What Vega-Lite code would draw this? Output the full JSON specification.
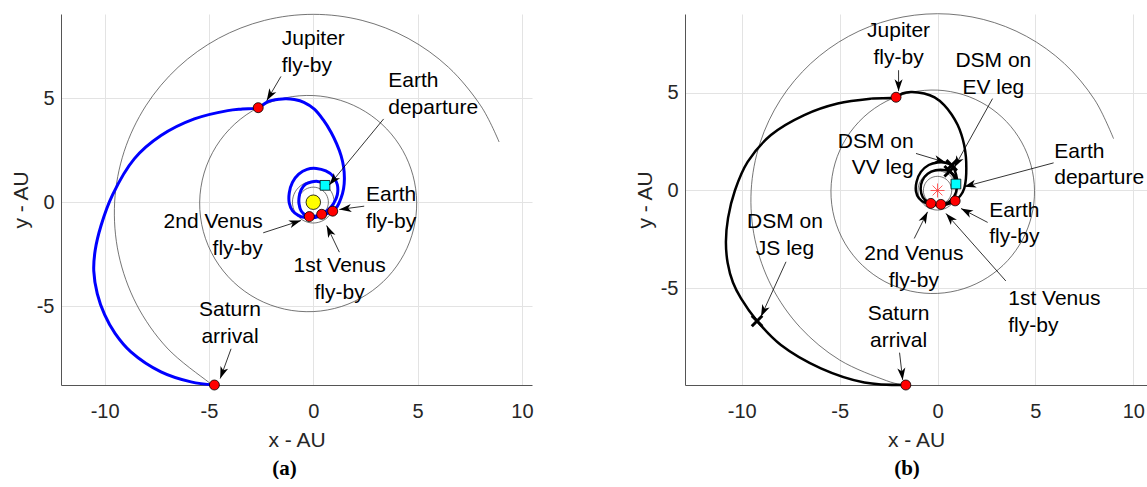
{
  "$schema": "https://vega.github.io/schema/vega-lite/v6.json",
  "background": "white",
  "padding": {"left": 10, "top": 12, "right": 0, "bottom": 0},
  "spacing": 153,
  "bounds": "flush",
  "config": {
    "view": {"stroke": null},
    "axis": {
      "grid": true, "gridColor": "#e3e3e3", "gridWidth": 1,
      "domainColor": "#555555", "domainWidth": 1,
      "ticks": false, "tickSize": 0,
      "labelFont": "Liberation Sans", "labelFontSize": 20, "labelColor": "#262626",
      "titleFont": "Liberation Sans", "titleFontSize": 21, "titleFontWeight": "normal", "titleColor": "#262626",
      "labelFlush": false, "labelOverlap": false,
      "labelExpr": "datum.value < 0 ? '-' + abs(datum.value) : '' + datum.value"
    },
    "axisX": {"labelPadding": 16, "titlePadding": 8},
    "axisY": {"labelPadding": 7, "titlePadding": 5},
    "text": {"font": "Liberation Sans", "fontSize": 21, "lineHeight": 26.7, "color": "black"}
  },
  "datasets": {
    "orbits": [
      {"body": "Venus", "i": 0, "x": 0.723, "y": 0},
      {"body": "Venus", "i": 1, "x": 0.626, "y": 0.362},
      {"body": "Venus", "i": 2, "x": 0.362, "y": 0.626},
      {"body": "Venus", "i": 3, "x": 0, "y": 0.723},
      {"body": "Venus", "i": 4, "x": -0.362, "y": 0.626},
      {"body": "Venus", "i": 5, "x": -0.626, "y": 0.362},
      {"body": "Venus", "i": 6, "x": -0.723, "y": 0},
      {"body": "Venus", "i": 7, "x": -0.626, "y": -0.362},
      {"body": "Venus", "i": 8, "x": -0.362, "y": -0.626},
      {"body": "Venus", "i": 9, "x": 0, "y": -0.723},
      {"body": "Venus", "i": 10, "x": 0.362, "y": -0.626},
      {"body": "Venus", "i": 11, "x": 0.626, "y": -0.362},
      {"body": "Earth", "i": 0, "x": 1, "y": 0},
      {"body": "Earth", "i": 1, "x": 0.866, "y": 0.5},
      {"body": "Earth", "i": 2, "x": 0.5, "y": 0.866},
      {"body": "Earth", "i": 3, "x": 0, "y": 1},
      {"body": "Earth", "i": 4, "x": -0.5, "y": 0.866},
      {"body": "Earth", "i": 5, "x": -0.866, "y": 0.5},
      {"body": "Earth", "i": 6, "x": -1, "y": 0},
      {"body": "Earth", "i": 7, "x": -0.866, "y": -0.5},
      {"body": "Earth", "i": 8, "x": -0.5, "y": -0.866},
      {"body": "Earth", "i": 9, "x": 0, "y": -1},
      {"body": "Earth", "i": 10, "x": 0.5, "y": -0.866},
      {"body": "Earth", "i": 11, "x": 0.866, "y": -0.5},
      {"body": "Jupiter", "i": 0, "x": 4.954, "y": 0},
      {"body": "Jupiter", "i": 1, "x": 4.777, "y": 1.28},
      {"body": "Jupiter", "i": 2, "x": 4.29, "y": 2.477},
      {"body": "Jupiter", "i": 3, "x": 3.519, "y": 3.519},
      {"body": "Jupiter", "i": 4, "x": 2.507, "y": 4.342},
      {"body": "Jupiter", "i": 5, "x": 1.31, "y": 4.891},
      {"body": "Jupiter", "i": 6, "x": 0, "y": 5.123},
      {"body": "Jupiter", "i": 7, "x": -1.343, "y": 5.011},
      {"body": "Jupiter", "i": 8, "x": -2.627, "y": 4.55},
      {"body": "Jupiter", "i": 9, "x": -3.76, "y": 3.76},
      {"body": "Jupiter", "i": 10, "x": -4.653, "y": 2.687},
      {"body": "Jupiter", "i": 11, "x": -5.232, "y": 1.402},
      {"body": "Jupiter", "i": 12, "x": -5.445, "y": 0},
      {"body": "Jupiter", "i": 13, "x": -5.268, "y": -1.412},
      {"body": "Jupiter", "i": 14, "x": -4.715, "y": -2.722},
      {"body": "Jupiter", "i": 15, "x": -3.83, "y": -3.83},
      {"body": "Jupiter", "i": 16, "x": -2.687, "y": -4.653},
      {"body": "Jupiter", "i": 17, "x": -1.376, "y": -5.136},
      {"body": "Jupiter", "i": 18, "x": 0, "y": -5.254},
      {"body": "Jupiter", "i": 19, "x": 1.343, "y": -5.011},
      {"body": "Jupiter", "i": 20, "x": 2.561, "y": -4.436},
      {"body": "Jupiter", "i": 21, "x": 3.581, "y": -3.581},
      {"body": "Jupiter", "i": 22, "x": 4.342, "y": -2.507},
      {"body": "Jupiter", "i": 23, "x": 4.807, "y": -1.288}
    ],
    "saturn": [
      {"panel": "a", "i": 0, "x": 8.903, "y": 2.893},
      {"panel": "a", "i": 1, "x": 8.024, "y": 4.633},
      {"panel": "a", "i": 2, "x": 6.48, "y": 6.48},
      {"panel": "a", "i": 3, "x": 4.544, "y": 7.87},
      {"panel": "a", "i": 4, "x": 2.34, "y": 8.732},
      {"panel": "a", "i": 5, "x": 0, "y": 9.024},
      {"panel": "a", "i": 6, "x": -2.34, "y": 8.732},
      {"panel": "a", "i": 7, "x": -4.544, "y": 7.87},
      {"panel": "a", "i": 8, "x": -6.48, "y": 6.48},
      {"panel": "a", "i": 9, "x": -8.024, "y": 4.633},
      {"panel": "a", "i": 10, "x": -9.066, "y": 2.429},
      {"panel": "a", "i": 11, "x": -9.52, "y": 0},
      {"panel": "a", "i": 12, "x": -9.328, "y": -2.499},
      {"panel": "a", "i": 13, "x": -8.477, "y": -4.895},
      {"panel": "a", "i": 14, "x": -7.004, "y": -7.004},
      {"panel": "a", "i": 15, "x": -4.998, "y": -8.657},
      {"panel": "a", "i": 16, "x": -4.74, "y": -8.78},
      {"panel": "b", "i": 0, "x": 8.992, "y": 2.646},
      {"panel": "b", "i": 1, "x": 8.024, "y": 4.633},
      {"panel": "b", "i": 2, "x": 6.48, "y": 6.48},
      {"panel": "b", "i": 3, "x": 4.544, "y": 7.87},
      {"panel": "b", "i": 4, "x": 2.34, "y": 8.732},
      {"panel": "b", "i": 5, "x": 0, "y": 9.024},
      {"panel": "b", "i": 6, "x": -2.34, "y": 8.732},
      {"panel": "b", "i": 7, "x": -4.544, "y": 7.87},
      {"panel": "b", "i": 8, "x": -6.48, "y": 6.48},
      {"panel": "b", "i": 9, "x": -8.024, "y": 4.633},
      {"panel": "b", "i": 10, "x": -9.066, "y": 2.429},
      {"panel": "b", "i": 11, "x": -9.52, "y": 0},
      {"panel": "b", "i": 12, "x": -9.328, "y": -2.499},
      {"panel": "b", "i": 13, "x": -8.477, "y": -4.895},
      {"panel": "b", "i": 14, "x": -7.004, "y": -7.004},
      {"panel": "b", "i": 15, "x": -4.998, "y": -8.657},
      {"panel": "b", "i": 16, "x": -2.602, "y": -9.711},
      {"panel": "b", "i": 17, "x": -1.62, "y": -9.93}
    ],
    "traj": [
      {"panel": "a", "i": 0, "x": 0.56, "y": 0.81},
      {"panel": "a", "i": 1, "x": 0.4, "y": 0.95},
      {"panel": "a", "i": 2, "x": 0.21, "y": 1.0},
      {"panel": "a", "i": 3, "x": -0.1, "y": 0.97},
      {"panel": "a", "i": 4, "x": -0.38, "y": 0.86},
      {"panel": "a", "i": 5, "x": -0.58, "y": 0.6},
      {"panel": "a", "i": 6, "x": -0.68, "y": 0.25},
      {"panel": "a", "i": 7, "x": -0.68, "y": -0.1},
      {"panel": "a", "i": 8, "x": -0.58, "y": -0.42},
      {"panel": "a", "i": 9, "x": -0.35, "y": -0.64},
      {"panel": "a", "i": 10, "x": -0.05, "y": -0.74},
      {"panel": "a", "i": 11, "x": 0.2, "y": -0.7},
      {"panel": "a", "i": 12, "x": 0.4, "y": -0.58},
      {"panel": "a", "i": 13, "x": 0.72, "y": -0.36},
      {"panel": "a", "i": 14, "x": 0.98, "y": -0.05},
      {"panel": "a", "i": 15, "x": 1.15, "y": 0.35},
      {"panel": "a", "i": 16, "x": 1.15, "y": 0.85},
      {"panel": "a", "i": 17, "x": 0.95, "y": 1.25},
      {"panel": "a", "i": 18, "x": 0.6, "y": 1.5},
      {"panel": "a", "i": 19, "x": 0.15, "y": 1.62},
      {"panel": "a", "i": 20, "x": -0.3, "y": 1.58},
      {"panel": "a", "i": 21, "x": -0.7, "y": 1.35},
      {"panel": "a", "i": 22, "x": -1.0, "y": 0.95},
      {"panel": "a", "i": 23, "x": -1.15, "y": 0.45},
      {"panel": "a", "i": 24, "x": -1.15, "y": -0.05},
      {"panel": "a", "i": 25, "x": -1.0, "y": -0.4},
      {"panel": "a", "i": 26, "x": -0.72, "y": -0.63},
      {"panel": "a", "i": 27, "x": -0.45, "y": -0.72},
      {"panel": "a", "i": 28, "x": -0.19, "y": -0.69},
      {"panel": "a", "i": 29, "x": 0.15, "y": -0.66},
      {"panel": "a", "i": 30, "x": 0.55, "y": -0.58},
      {"panel": "a", "i": 31, "x": 0.93, "y": -0.43},
      {"panel": "a", "i": 32, "x": 1.15, "y": -0.2},
      {"panel": "a", "i": 33, "x": 1.33, "y": 0.2},
      {"panel": "a", "i": 34, "x": 1.45, "y": 0.65},
      {"panel": "a", "i": 35, "x": 1.49, "y": 1.12},
      {"panel": "a", "i": 36, "x": 1.45, "y": 1.7},
      {"panel": "a", "i": 37, "x": 1.33, "y": 2.24},
      {"panel": "a", "i": 38, "x": 1.12, "y": 2.8},
      {"panel": "a", "i": 39, "x": 0.85, "y": 3.36},
      {"panel": "a", "i": 40, "x": 0.48, "y": 3.95},
      {"panel": "a", "i": 41, "x": 0.05, "y": 4.47},
      {"panel": "a", "i": 42, "x": -0.45, "y": 4.8},
      {"panel": "a", "i": 43, "x": -0.91, "y": 4.93},
      {"panel": "a", "i": 44, "x": -1.3, "y": 4.97},
      {"panel": "a", "i": 45, "x": -1.63, "y": 4.95},
      {"panel": "a", "i": 46, "x": -2.18, "y": 4.83},
      {"panel": "a", "i": 47, "x": -2.64, "y": 4.54},
      {"panel": "a", "i": 48, "x": -3.4, "y": 4.48},
      {"panel": "a", "i": 49, "x": -4.1, "y": 4.4},
      {"panel": "a", "i": 50, "x": -5.7, "y": 4.0},
      {"panel": "a", "i": 51, "x": -7.3, "y": 3.2},
      {"panel": "a", "i": 52, "x": -8.58, "y": 2.08},
      {"panel": "a", "i": 53, "x": -9.62, "y": 0.35},
      {"panel": "a", "i": 54, "x": -10.17, "y": -1.12},
      {"panel": "a", "i": 55, "x": -10.45, "y": -2.3},
      {"panel": "a", "i": 56, "x": -10.52, "y": -3.3},
      {"panel": "a", "i": 57, "x": -10.35, "y": -4.4},
      {"panel": "a", "i": 58, "x": -10.0, "y": -5.4},
      {"panel": "a", "i": 59, "x": -9.5, "y": -6.3},
      {"panel": "a", "i": 60, "x": -8.74, "y": -7.19},
      {"panel": "a", "i": 61, "x": -7.3, "y": -8.15},
      {"panel": "a", "i": 62, "x": -5.86, "y": -8.63},
      {"panel": "a", "i": 63, "x": -4.74, "y": -8.78},
      {"panel": "b", "i": 0, "x": 0.94, "y": 0.33},
      {"panel": "b", "i": 1, "x": 0.85, "y": 0.7},
      {"panel": "b", "i": 2, "x": 0.62, "y": 0.98},
      {"panel": "b", "i": 3, "x": 0.3, "y": 1.05},
      {"panel": "b", "i": 4, "x": -0.1, "y": 1.03},
      {"panel": "b", "i": 5, "x": -0.5, "y": 0.85},
      {"panel": "b", "i": 6, "x": -0.78, "y": 0.5},
      {"panel": "b", "i": 7, "x": -0.86, "y": 0.05},
      {"panel": "b", "i": 8, "x": -0.75, "y": -0.35},
      {"panel": "b", "i": 9, "x": -0.45, "y": -0.62},
      {"panel": "b", "i": 10, "x": -0.1, "y": -0.74},
      {"panel": "b", "i": 11, "x": 0.17, "y": -0.71},
      {"panel": "b", "i": 12, "x": 0.55, "y": -0.6},
      {"panel": "b", "i": 13, "x": 0.85, "y": -0.3},
      {"panel": "b", "i": 14, "x": 1.0, "y": 0.2},
      {"panel": "b", "i": 15, "x": 0.95, "y": 0.8},
      {"panel": "b", "i": 16, "x": 0.72, "y": 1.28},
      {"panel": "b", "i": 17, "x": 0.4, "y": 1.42},
      {"panel": "b", "i": 18, "x": 0.0, "y": 1.43},
      {"panel": "b", "i": 19, "x": -0.45, "y": 1.3},
      {"panel": "b", "i": 20, "x": -0.85, "y": 0.95},
      {"panel": "b", "i": 21, "x": -1.07, "y": 0.45},
      {"panel": "b", "i": 22, "x": -1.1, "y": -0.05},
      {"panel": "b", "i": 23, "x": -0.95, "y": -0.4},
      {"panel": "b", "i": 24, "x": -0.65, "y": -0.62},
      {"panel": "b", "i": 25, "x": -0.34, "y": -0.66},
      {"panel": "b", "i": 26, "x": 0.0, "y": -0.76},
      {"panel": "b", "i": 27, "x": 0.45, "y": -0.72},
      {"panel": "b", "i": 28, "x": 0.9, "y": -0.53},
      {"panel": "b", "i": 29, "x": 1.18, "y": -0.25},
      {"panel": "b", "i": 30, "x": 1.36, "y": 0.1},
      {"panel": "b", "i": 31, "x": 1.45, "y": 0.6},
      {"panel": "b", "i": 32, "x": 1.47, "y": 1.12},
      {"panel": "b", "i": 33, "x": 1.45, "y": 1.7},
      {"panel": "b", "i": 34, "x": 1.36, "y": 2.32},
      {"panel": "b", "i": 35, "x": 1.22, "y": 2.85},
      {"panel": "b", "i": 36, "x": 1.03, "y": 3.34},
      {"panel": "b", "i": 37, "x": 0.72, "y": 3.88},
      {"panel": "b", "i": 38, "x": 0.34, "y": 4.36},
      {"panel": "b", "i": 39, "x": -0.15, "y": 4.75},
      {"panel": "b", "i": 40, "x": -0.68, "y": 4.95},
      {"panel": "b", "i": 41, "x": -1.36, "y": 5.03},
      {"panel": "b", "i": 42, "x": -1.8, "y": 4.95},
      {"panel": "b", "i": 43, "x": -2.12, "y": 4.76},
      {"panel": "b", "i": 44, "x": -3.4, "y": 4.69},
      {"panel": "b", "i": 45, "x": -5.1, "y": 4.44},
      {"panel": "b", "i": 46, "x": -6.81, "y": 3.85},
      {"panel": "b", "i": 47, "x": -8.51, "y": 2.83},
      {"panel": "b", "i": 48, "x": -9.7, "y": 1.46},
      {"panel": "b", "i": 49, "x": -10.35, "y": 0.0},
      {"panel": "b", "i": 50, "x": -10.7, "y": -1.4},
      {"panel": "b", "i": 51, "x": -10.81, "y": -2.62},
      {"panel": "b", "i": 52, "x": -10.72, "y": -3.7},
      {"panel": "b", "i": 53, "x": -10.45, "y": -4.7},
      {"panel": "b", "i": 54, "x": -10.04, "y": -5.51},
      {"panel": "b", "i": 55, "x": -9.22, "y": -6.66},
      {"panel": "b", "i": 56, "x": -8.0, "y": -7.89},
      {"panel": "b", "i": 57, "x": -5.96, "y": -9.08},
      {"panel": "b", "i": 58, "x": -3.74, "y": -9.8},
      {"panel": "b", "i": 59, "x": -1.62, "y": -9.93}
    ],
    "markers": [
      {"panel": "a", "kind": "sun", "x": 0, "y": 0},
      {"panel": "a", "kind": "departure", "x": 0.56, "y": 0.81},
      {"panel": "a", "kind": "flyby", "x": -2.64, "y": 4.54},
      {"panel": "a", "kind": "flyby", "x": -4.74, "y": -8.78},
      {"panel": "a", "kind": "flyby", "x": 0.93, "y": -0.43},
      {"panel": "a", "kind": "flyby", "x": 0.4, "y": -0.58},
      {"panel": "a", "kind": "flyby", "x": -0.19, "y": -0.69},
      {"panel": "b", "kind": "sun", "x": 0, "y": 0},
      {"panel": "b", "kind": "departure", "x": 0.94, "y": 0.33},
      {"panel": "b", "kind": "flyby", "x": -2.12, "y": 4.76},
      {"panel": "b", "kind": "flyby", "x": -1.62, "y": -9.93},
      {"panel": "b", "kind": "flyby", "x": 0.9, "y": -0.53},
      {"panel": "b", "kind": "flyby", "x": 0.17, "y": -0.71},
      {"panel": "b", "kind": "flyby", "x": -0.34, "y": -0.66},
      {"panel": "b", "kind": "dsm", "x": 0.72, "y": 1.28},
      {"panel": "b", "kind": "dsm", "x": 0.62, "y": 0.98},
      {"panel": "b", "kind": "dsm", "x": -9.22, "y": -6.66}
    ],
    "labels": [
      {"panel": "a", "just": "left", "text": "Jupiter\nfly-by", "x": -1.51, "y": 7.54},
      {"panel": "a", "just": "left", "text": "Earth\ndeparture", "x": 3.59, "y": 5.52},
      {"panel": "a", "just": "left", "text": "Earth\nfly-by", "x": 2.53, "y": 0.05},
      {"panel": "a", "just": "right", "text": "2nd Venus\nfly-by", "x": -2.42, "y": -1.25},
      {"panel": "a", "just": "center", "text": "1st Venus\nfly-by", "x": 1.26, "y": -3.36},
      {"panel": "a", "just": "center", "text": "Saturn\narrival", "x": -3.99, "y": -5.48},
      {"panel": "b", "just": "center", "text": "Jupiter\nfly-by", "x": -1.99, "y": 7.84},
      {"panel": "b", "just": "center", "text": "DSM on\nEV leg", "x": 2.85, "y": 6.31},
      {"panel": "b", "just": "right", "text": "DSM on\nVV leg", "x": -1.22, "y": 2.19},
      {"panel": "b", "just": "left", "text": "Earth\ndeparture", "x": 5.96, "y": 1.67},
      {"panel": "b", "just": "left", "text": "Earth\nfly-by", "x": 2.64, "y": -1.34},
      {"panel": "b", "just": "center", "text": "2nd Venus\nfly-by", "x": -1.21, "y": -3.55},
      {"panel": "b", "just": "left", "text": "1st Venus\nfly-by", "x": 3.61, "y": -5.85},
      {"panel": "b", "just": "center", "text": "DSM on\nJS leg", "x": -7.79, "y": -1.94},
      {"panel": "b", "just": "center", "text": "Saturn\narrival", "x": -1.99, "y": -6.61}
    ],
    "arrows": [
      {"panel": "a", "x0": -1.55, "y0": 6.04, "x": -2.23, "y": 4.88},
      {"panel": "a", "x0": 3.37, "y0": 4.0, "x": 0.77, "y": 0.83},
      {"panel": "a", "x0": 2.44, "y0": -0.19, "x": 1.25, "y": -0.35},
      {"panel": "a", "x0": -2.4, "y0": -1.47, "x": -0.59, "y": -0.88},
      {"panel": "a", "x0": 1.25, "y0": -2.4, "x": 0.64, "y": -1.12},
      {"panel": "a", "x0": -3.94, "y0": -7.04, "x": -4.46, "y": -8.47},
      {"panel": "b", "x0": -1.99, "y0": 6.14, "x": -1.99, "y": 5.07},
      {"panel": "b", "x0": 2.81, "y0": 4.69, "x": 0.85, "y": 1.17},
      {"panel": "b", "x0": -1.1, "y0": 1.89, "x": 0.43, "y": 1.43},
      {"panel": "b", "x0": 5.93, "y0": 1.41, "x": 1.36, "y": 0.19},
      {"panel": "b", "x0": 2.56, "y0": -1.63, "x": 1.2, "y": -0.92},
      {"panel": "b", "x0": -1.19, "y0": -2.45, "x": -0.51, "y": -1.09},
      {"panel": "b", "x0": 3.49, "y0": -4.62, "x": 0.43, "y": -1.17},
      {"panel": "b", "x0": -7.74, "y0": -3.64, "x": -9.02, "y": -6.44},
      {"panel": "b", "x0": -1.94, "y0": -8.28, "x": -1.78, "y": -9.67}
    ]
  },
  "hconcat": [
    {
      "width": 471,
      "height": 371,
      "title": {"text": "(a)", "orient": "bottom", "anchor": "middle", "frame": "group", "offset": 8, "dx": -12, "font": "Liberation Serif", "fontSize": 21, "fontWeight": "bold", "color": "black"},
      "encoding": {
        "x": {"field": "x", "type": "quantitative", "scale": {"domain": [-12.09, 10.48], "nice": false, "zero": false}, "axis": {"title": "x - AU", "values": [-10, -5, 0, 5, 10]}},
        "y": {"field": "y", "type": "quantitative", "scale": {"domain": [-8.78, 9.04], "nice": false, "zero": false}, "axis": {"title": "y - AU", "values": [-5, 0, 5]}}
      },
      "layer": [
        {"data": {"name": "orbits"}, "mark": {"type": "line", "interpolate": "cardinal-closed", "color": "#3a3a3a", "strokeWidth": 0.7}, "encoding": {"detail": {"field": "body"}, "order": {"field": "i"}}},
        {"data": {"name": "saturn"}, "transform": [{"filter": "datum.panel === 'a'"}], "mark": {"type": "line", "interpolate": "cardinal", "color": "#3a3a3a", "strokeWidth": 0.7}, "encoding": {"order": {"field": "i"}}},
        {"data": {"name": "traj"}, "transform": [{"filter": "datum.panel === 'a'"}], "mark": {"type": "line", "interpolate": "catmull-rom", "color": "#0000ff", "strokeWidth": 3}, "encoding": {"order": {"field": "i"}}},
        {"data": {"name": "markers"}, "transform": [{"filter": "datum.panel === 'a' && datum.kind === 'sun'"}], "mark": {"type": "point", "shape": "circle", "filled": true, "fill": "#ffff00", "stroke": "black", "strokeWidth": 0.8, "size": 210, "opacity": 1}},
        {"data": {"name": "markers"}, "transform": [{"filter": "datum.panel === 'a' && datum.kind === 'departure'"}], "mark": {"type": "point", "shape": "square", "filled": true, "fill": "#00ffff", "stroke": "black", "strokeWidth": 0.8, "size": 95, "opacity": 1}},
        {"data": {"name": "markers"}, "transform": [{"filter": "datum.panel === 'a' && datum.kind === 'flyby'"}], "mark": {"type": "point", "shape": "circle", "filled": true, "fill": "#ff0000", "stroke": "black", "strokeWidth": 0.8, "size": 100, "opacity": 1}},
        {"data": {"name": "arrows"}, "transform": [{"filter": "datum.panel === 'a'"}], "mark": {"type": "rule", "color": "black", "strokeWidth": 0.8}, "encoding": {"x2": {"field": "x0"}, "y2": {"field": "y0"}}},
        {"data": {"name": "arrows"}, "transform": [{"filter": "datum.panel === 'a'"}, {"calculate": "atan2(datum.x - datum.x0, datum.y - datum.y0) * 180 / PI", "as": "angle"}], "mark": {"type": "point", "shape": "M0,0L-0.67,2L0,1.45L0.67,2Z", "filled": true, "color": "black", "size": 144, "opacity": 1, "strokeWidth": 0}, "encoding": {"angle": {"field": "angle", "type": "quantitative", "scale": null}}},
        {"data": {"name": "labels"}, "transform": [{"filter": "datum.panel === 'a' && datum.just === 'left'"}], "mark": {"type": "text", "align": "left", "baseline": "alphabetic", "lineBreak": "\n"}, "encoding": {"text": {"field": "text"}}},
        {"data": {"name": "labels"}, "transform": [{"filter": "datum.panel === 'a' && datum.just === 'center'"}], "mark": {"type": "text", "align": "center", "baseline": "alphabetic", "lineBreak": "\n"}, "encoding": {"text": {"field": "text"}}},
        {"data": {"name": "labels"}, "transform": [{"filter": "datum.panel === 'a' && datum.just === 'right'"}], "mark": {"type": "text", "align": "right", "baseline": "alphabetic", "lineBreak": "\n"}, "encoding": {"text": {"field": "text"}}}
      ]
    },
    {
      "width": 462,
      "height": 371,
      "title": {"text": "(b)", "orient": "bottom", "anchor": "middle", "frame": "group", "offset": 8, "dx": -9, "font": "Liberation Serif", "fontSize": 21, "fontWeight": "bold", "color": "black"},
      "encoding": {
        "x": {"field": "x", "type": "quantitative", "scale": {"domain": [-12.9, 10.7], "nice": false, "zero": false}, "axis": {"title": "x - AU", "values": [-10, -5, 0, 5, 10]}},
        "y": {"field": "y", "type": "quantitative", "scale": {"domain": [-9.93, 9.01], "nice": false, "zero": false}, "axis": {"title": "y - AU", "values": [-5, 0, 5]}}
      },
      "layer": [
        {"data": {"name": "orbits"}, "mark": {"type": "line", "interpolate": "cardinal-closed", "color": "#3a3a3a", "strokeWidth": 0.7}, "encoding": {"detail": {"field": "body"}, "order": {"field": "i"}}},
        {"data": {"name": "saturn"}, "transform": [{"filter": "datum.panel === 'b'"}], "mark": {"type": "line", "interpolate": "cardinal", "color": "#3a3a3a", "strokeWidth": 0.7}, "encoding": {"order": {"field": "i"}}},
        {"data": {"name": "traj"}, "transform": [{"filter": "datum.panel === 'b'"}], "mark": {"type": "line", "interpolate": "catmull-rom", "color": "black", "strokeWidth": 2.5}, "encoding": {"order": {"field": "i"}}},
        {"data": {"name": "markers"}, "transform": [{"filter": "datum.panel === 'b' && datum.kind === 'sun'"}], "mark": {"type": "point", "shape": "M0,-1L0,1M-1,0L1,0M-0.7,-0.7L0.7,0.7M-0.7,0.7L0.7,-0.7", "filled": false, "stroke": "#ff3333", "strokeWidth": 0.8, "size": 196, "opacity": 1}},
        {"data": {"name": "markers"}, "transform": [{"filter": "datum.panel === 'b' && datum.kind === 'departure'"}], "mark": {"type": "point", "shape": "square", "filled": true, "fill": "#00ffff", "stroke": "black", "strokeWidth": 0.8, "size": 95, "opacity": 1}},
        {"data": {"name": "markers"}, "transform": [{"filter": "datum.panel === 'b' && datum.kind === 'flyby'"}], "mark": {"type": "point", "shape": "circle", "filled": true, "fill": "#ff0000", "stroke": "black", "strokeWidth": 0.8, "size": 100, "opacity": 1}},
        {"data": {"name": "markers"}, "transform": [{"filter": "datum.panel === 'b' && datum.kind === 'dsm'"}], "mark": {"type": "point", "shape": "M-1,-1L1,1M-1,1L1,-1", "filled": false, "stroke": "black", "strokeWidth": 3, "size": 110, "opacity": 1}},
        {"data": {"name": "arrows"}, "transform": [{"filter": "datum.panel === 'b'"}], "mark": {"type": "rule", "color": "black", "strokeWidth": 0.8}, "encoding": {"x2": {"field": "x0"}, "y2": {"field": "y0"}}},
        {"data": {"name": "arrows"}, "transform": [{"filter": "datum.panel === 'b'"}, {"calculate": "atan2(datum.x - datum.x0, datum.y - datum.y0) * 180 / PI", "as": "angle"}], "mark": {"type": "point", "shape": "M0,0L-0.67,2L0,1.45L0.67,2Z", "filled": true, "color": "black", "size": 144, "opacity": 1, "strokeWidth": 0}, "encoding": {"angle": {"field": "angle", "type": "quantitative", "scale": null}}},
        {"data": {"name": "labels"}, "transform": [{"filter": "datum.panel === 'b' && datum.just === 'left'"}], "mark": {"type": "text", "align": "left", "baseline": "alphabetic", "lineBreak": "\n"}, "encoding": {"text": {"field": "text"}}},
        {"data": {"name": "labels"}, "transform": [{"filter": "datum.panel === 'b' && datum.just === 'center'"}], "mark": {"type": "text", "align": "center", "baseline": "alphabetic", "lineBreak": "\n"}, "encoding": {"text": {"field": "text"}}},
        {"data": {"name": "labels"}, "transform": [{"filter": "datum.panel === 'b' && datum.just === 'right'"}], "mark": {"type": "text", "align": "right", "baseline": "alphabetic", "lineBreak": "\n"}, "encoding": {"text": {"field": "text"}}}
      ]
    }
  ]
}
